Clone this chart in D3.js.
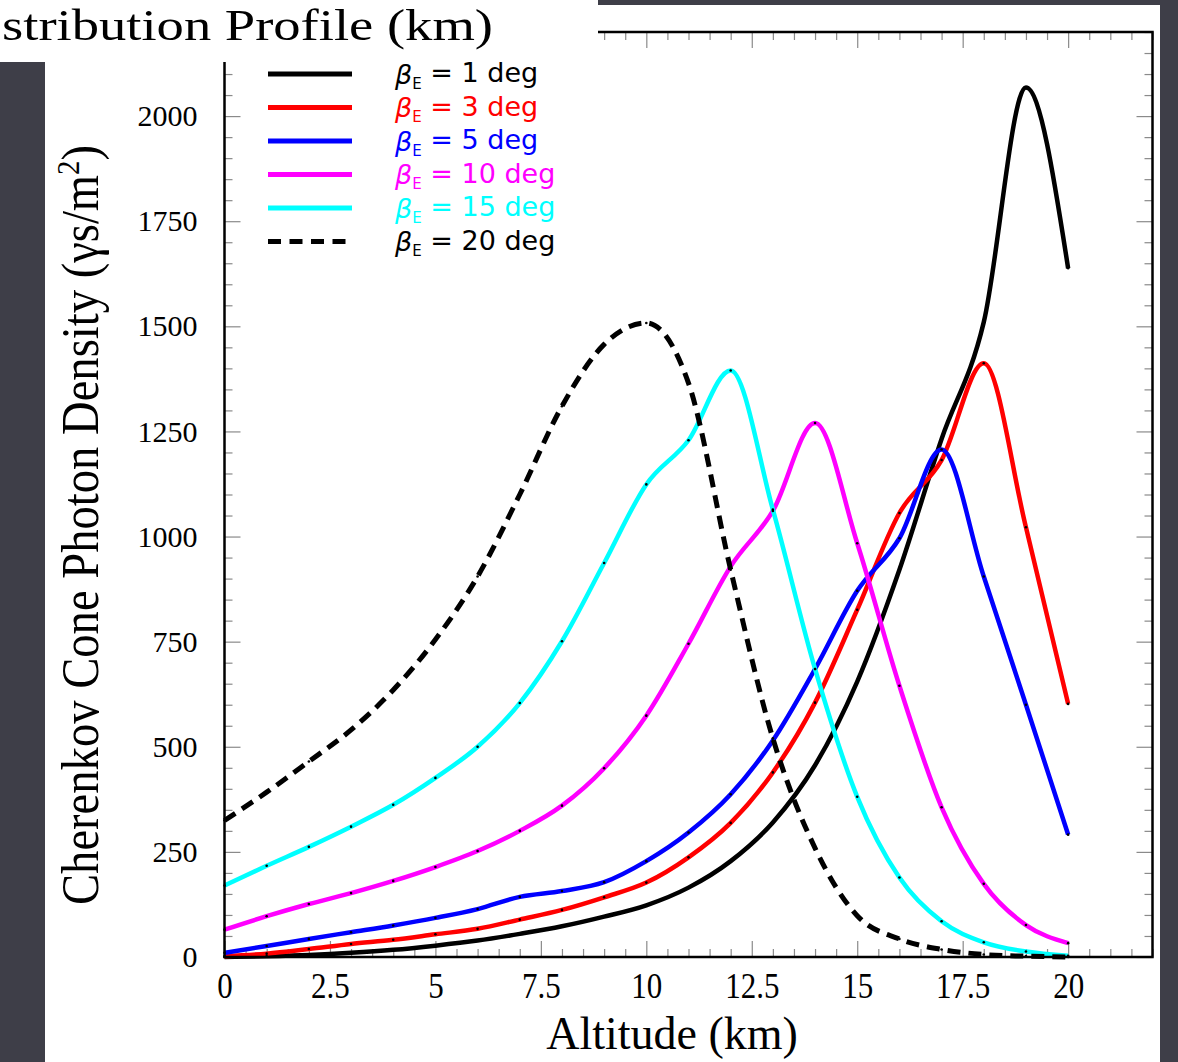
<!DOCTYPE html>
<html><head><meta charset="utf-8">
<script src="https://cdn.jsdelivr.net/npm/d3@7"></script>
<style>body{margin:0;background:#3c3c46;} svg{display:block}</style>
</head><body>
<svg id="c" width="1178" height="1062"></svg>
<script>
// ---- data ----
const altitude = [0,1,2,3,4,5,6,7,8,9,10,11,12,13,14,15,16,17,18,19,20];
const beta1  = [0,2,5,10,17,27,39,55,73,96,123,165,228,320,456,655,921,1232,1510,2068,1638];
const beta3  = [2,8,19,31,41,54,67,89,112,142,177,237,319,439,605,826,1056,1182,1412,1022,602];
const beta5  = [10,26,43,59,75,93,114,143,157,178,228,296,387,515,685,871,996,1207,905,600,291];
const beta10 = [65,97,126,152,181,214,252,300,360,449,574,745,929,1061,1270,984,645,356,174,76,33];
const beta15 = [170,217,262,310,362,426,500,604,751,937,1124,1229,1395,1064,685,381,189,85,35,13,3];
const beta20 = [325,392,465,540,635,755,905,1100,1310,1457,1508,1365,921,520,259,98,43,18,6,2,0];
const seriesAngles = ["1","3","5","10","15","20"];
const seriesColors = ["#000000","#ff0000","#0000ff","#ff00ff","#00ffff","#000000"];
const seriesValues = [beta1,beta3,beta5,beta10,beta15,beta20];
const seriesDashed = [false,false,false,false,false,true];
const xTickLabels = [0,2.5,5,7.5,10,12.5,15,17.5,20];
const yTickLabels = [0,250,500,750,1000,1250,1500,1750,2000];

const svg = d3.select("#c");
const W = 1178, H = 1062;
// background & panels
svg.append("rect").attr("width",W).attr("height",H).attr("fill","#3e3e48");
svg.append("rect").attr("x",45).attr("y",5).attr("width",1115).attr("height",H-5).attr("fill","#fff");

const x = d3.scaleLinear().domain([0,22]).range([224.5,1152.5]);
const y = d3.scaleLinear().domain([0,2200]).range([957,32]);
const [x0,x1] = x.range(), [y0,y1] = y.range();

const xMinor = d3.range(0,22.01,0.5).filter(v=>Math.abs(v/2.5-Math.round(v/2.5))>1e-6);
const xMajor = d3.range(0,22.01,2.5);
const yMinor = d3.range(0,2200.1,50).filter(v=>v%250!==0);
const yMajor = d3.range(0,2200.1,250);

function ticks(axisGen, vals, len, tx, ty){
  const g = svg.append("g").attr("transform",`translate(${tx},${ty})`)
    .call(axisGen.tickValues(vals).tickSize(-len).tickFormat(""));
  g.select(".domain").remove();
  g.selectAll(".tick line").attr("stroke","#8a8a8a").attr("stroke-width",1.2);
  return g;
}
ticks(d3.axisBottom(x), xMinor, 8, 0, y0);
ticks(d3.axisBottom(x), xMajor, 16, 0, y0);
ticks(d3.axisTop(x), xMinor, 8, 0, y1);
ticks(d3.axisTop(x), xMajor, 16, 0, y1);
ticks(d3.axisLeft(y), yMinor, 8, x0, 0);
ticks(d3.axisLeft(y), yMajor, 16, x0, 0);
ticks(d3.axisRight(y), yMinor, 8, x1, 0);
ticks(d3.axisRight(y), yMajor, 16, x1, 0);

// tick labels
const gx = svg.append("g").attr("transform",`translate(0,${y0})`)
  .call(d3.axisBottom(x).tickValues(xTickLabels).tickSize(0).tickPadding(15).tickFormat(d=>String(d)));
gx.select(".domain").remove();
gx.selectAll("text").attr("font-family","'Liberation Serif','Times New Roman',serif")
  .attr("font-size",36).attr("fill","#000")
  .each(function(){ const l=this.getComputedTextLength(); d3.select(this).attr("textLength",l*0.86).attr("lengthAdjust","spacingAndGlyphs"); });

const gy = svg.append("g").attr("transform",`translate(${x0},0)`)
  .call(d3.axisLeft(y).tickValues(yTickLabels).tickSize(0).tickPadding(27).tickFormat(d=>String(d)));
gy.select(".domain").remove();
gy.selectAll("text").attr("font-family","'Liberation Serif','Times New Roman',serif")
  .attr("font-size",30).attr("fill","#000");

// lines
const line = d3.line().x((d,i)=>x(altitude[i])).y(d=>y(d)).curve(d3.curveMonotoneX);
const plot = svg.append("g");
seriesValues.forEach((vals,k)=>{
  plot.append("path").datum(vals).attr("d",line)
    .attr("fill","none").attr("stroke",seriesColors[k]).attr("stroke-width",seriesDashed[k]?5:4.5)
    .attr("stroke-linejoin","round")
    .attr("stroke-dasharray",seriesDashed[k]?"13,8":null);
});
seriesValues.forEach((vals,k)=>{
  plot.selectAll(null).data(vals).enter().append("circle")
    .attr("cx",(d,i)=>x(altitude[i])).attr("cy",d=>y(d)).attr("r",1.3).attr("fill","#000");
});

// frame
svg.append("rect").attr("x",x0).attr("y",y1).attr("width",x1-x0).attr("height",y0-y1)
  .attr("fill","none").attr("stroke","#000").attr("stroke-width",2.5);

// title overlay box
svg.append("rect").attr("x",0).attr("y",0).attr("width",598).attr("height",62).attr("fill","#fff");
svg.append("text").attr("x",2).attr("y",40).attr("font-family","'Liberation Serif','Times New Roman',serif")
  .attr("font-size",44).attr("textLength",491).attr("lengthAdjust","spacingAndGlyphs")
  .text("stribution Profile (km)");

// axis titles
svg.append("text").attr("x",672).attr("y",1049).attr("text-anchor","middle")
  .attr("font-family","'Liberation Serif','Times New Roman',serif").attr("font-size",46)
  .text("Altitude (km)");
const yl = svg.append("text").attr("transform","translate(98,525) rotate(-90)").attr("text-anchor","middle")
  .attr("font-family","'Liberation Serif','Times New Roman',serif").attr("font-size",52)
  .attr("textLength",760).attr("lengthAdjust","spacingAndGlyphs");
yl.append("tspan").text("Cherenkov Cone Photon Density (γs/m");
yl.append("tspan").attr("font-size",32).attr("baseline-shift","60%").text("2");
yl.append("tspan").text(")");

// legend
const legY = [74,107.5,141,174.5,208,241.5];
seriesAngles.forEach((a,k)=>{
  const g = svg.append("g");
  g.append("line").attr("x1",268).attr("x2",352).attr("y1",legY[k]).attr("y2",legY[k])
    .attr("stroke",seriesColors[k]).attr("stroke-width",5)
    .attr("stroke-dasharray",seriesDashed[k]?"13,8.5":null);
  const t = g.append("text").attr("x",395).attr("y",legY[k]).attr("dy","0.36em")
    .attr("font-family","'DejaVu Sans',sans-serif").attr("font-size",27).attr("fill",seriesColors[k]);
  t.append("tspan").attr("font-style","italic").text("β");
  t.append("tspan").attr("font-size",15).attr("dy","0.35em").text("E");
  t.append("tspan").attr("dy","-0.25em").text(" = " + a + " deg");
});
</script>
</body></html>
